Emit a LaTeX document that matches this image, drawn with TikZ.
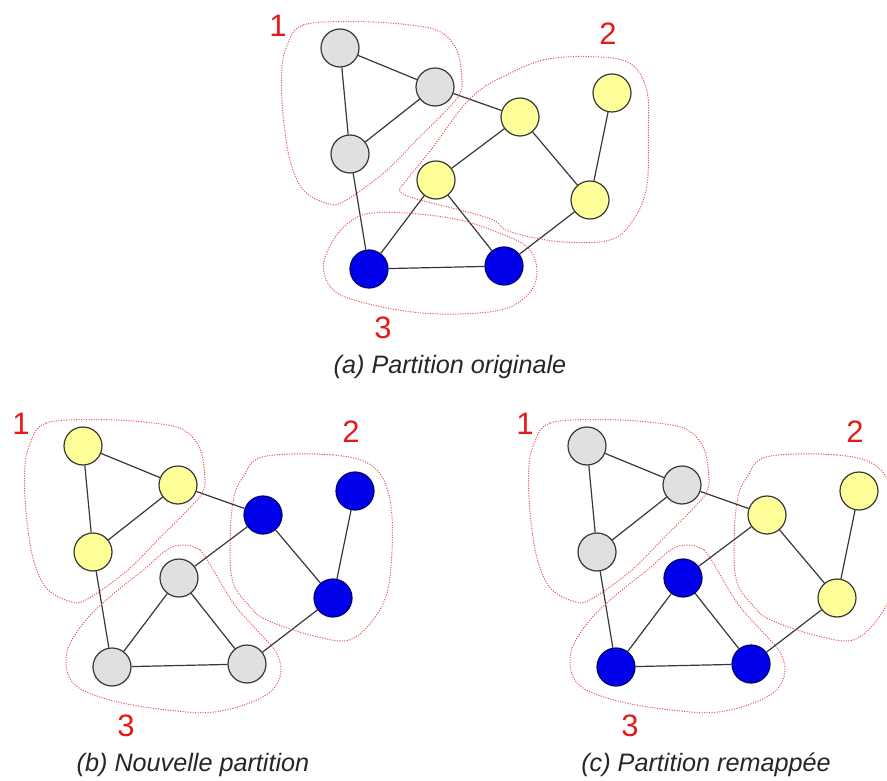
\documentclass[tikz,border=0pt]{standalone}
\usepackage{fontspec}
\setmainfont{Liberation Sans}
\usepackage{tikz}
\usetikzlibrary{positioning}
\definecolor{grisfill}{RGB}{224,224,224}
\definecolor{jaunefill}{RGB}{255,255,153}
\definecolor{bleufill}{RGB}{0,0,235}
\definecolor{bordline}{RGB}{55,55,55}
\definecolor{bleuline}{RGB}{0,0,110}
\definecolor{numred}{RGB}{230,25,25}
\definecolor{zonered}{RGB}{232,85,85}
\tikzset{
  vtx/.style={circle, minimum size=38pt, inner sep=0pt, line width=1.2pt},
  grisv/.style={vtx, fill=grisfill, draw=bordline},
  jaunev/.style={vtx, fill=jaunefill, draw=bordline},
  bleuv/.style={vtx, fill=bleufill, draw=bleuline},
  arete/.style={line width=1.2pt, draw=bordline},
  zone/.style={draw=zonered, dash pattern=on 1.1pt off 1.4pt, line width=1pt},
  numlbl/.style={text=numred, font=\fontsize{31}{36}\selectfont},
  legende/.style={text=black!85, font=\itshape\fontsize{25.2}{30}\selectfont},
}
% #1 prefix, #2 shift, #3..#6 styles of the groups
\newcommand{\graphe}[6]{%
  \begin{scope}[shift={#2}]
    \node[#3] (#1-1) at (340,48) {};
    \node[#3] (#1-2) at (435,87) {};
    \node[#3] (#1-3) at (350,154) {};
    \node[#4] (#1-4) at (520,117) {};
    \node[#4] (#1-5) at (612,93) {};
    \node[#5] (#1-6) at (436,180) {};
    \node[#4] (#1-7) at (590,200) {};
    \node[#6] (#1-8) at (369,269) {};
    \node[#6] (#1-9) at (504,266) {};
    \foreach \s/\t in {1/2,1/3,2/3,2/4,3/8,4/6,4/7,5/7,6/8,6/9,8/9,7/9}
      \draw[arete] (#1-\s) -- (#1-\t);
    \node[numlbl] (#1-n1) at (278,26) {1};
    \node[numlbl] (#1-n2) at (608,34) {2};
    \node[numlbl] (#1-n3) at (383,328) {3};
    % cluster 1
    \draw[zone] plot[smooth cycle, tension=0.6] coordinates {
      (286.7,46.7) (303.3,25) (360,21.7) (410,25) (440,31.7) (456.7,50)
      (461.7,76.7) (460,93.3) (446.7,110) (416.7,140) (383.3,173.3)
      (343.3,201.7) (326.7,203.3) (303.3,190) (290,160) (283.3,116.7) (281.7,73.3)};
  \end{scope}}

\begin{document}
\begin{tikzpicture}[x=1pt, y=-1pt]
  \useasboundingbox (0,0) rectangle (887,781);
  % (a) partition originale
  \graphe{a}{(0,0)}{grisv}{jaunev}{jaunev}{bleuv}
  \draw[zone] plot[smooth cycle, tension=0.6] coordinates {
    (500,78.3) (543.3,60) (593.3,56.7) (630,63.3) (646.7,90) (648.3,133.3)
    (646.7,186.7) (633.3,220) (610,240) (560,241.7) (510,231.7) (493.3,220)
    (460,210) (420,200) (400,191.7) (406.7,180) (433.3,146.7) (460,110) (480,90)};
  \draw[zone] plot[smooth cycle, tension=0.6] coordinates {
    (370,213.3) (410,213.3) (460,220) (500,233.3) (526.7,246.7) (536.7,266.7)
    (531.7,290) (506.7,308.3) (460,314) (410,311.7) (360,301.7) (333.3,290)
    (323.3,266.7) (333.3,240) (350,221.7)};
  \node[legende] (cap-a) at (450,367) {(a) Partition originale};
  % (b) nouvelle partition
  \graphe{b}{(-257,398)}{jaunev}{bleuv}{grisv}{grisv}
  % (c) partition remappee
  \graphe{c}{(247,398)}{grisv}{jaunev}{bleuv}{bleuv}
  \foreach \dx in {-257,247}{
    \begin{scope}[shift={(\dx,398)}]
      \draw[zone] plot[smooth cycle, tension=0.6] coordinates {
        (520.3,58.7) (590.3,57) (630.3,68.7) (647,102) (648.7,158.7) (640.3,205.3)
        (610.3,240.3) (573.7,238.7) (523.7,222) (507,208.7) (490.3,185.3)
        (487,148.7) (490.3,102) (500.3,78.7)};
      \draw[zone] plot[smooth cycle, tension=0.6] coordinates {
        (440.3,147) (457,152) (470.3,172) (490.3,205.3) (513.7,232) (533.7,255.3)
        (537,278.7) (520.3,298.7) (473.7,313.7) (423.7,312) (367,302) (330.3,285.3)
        (323.7,255.3) (340.3,225.3) (367,198.7) (400.3,172) (423.7,152)};
    \end{scope}}
  \node[legende] (cap-b) at (193,765) {(b) Nouvelle partition};
  \node[legende] (cap-c) at (706,765) {(c) Partition remappée};
\end{tikzpicture}
\end{document}
